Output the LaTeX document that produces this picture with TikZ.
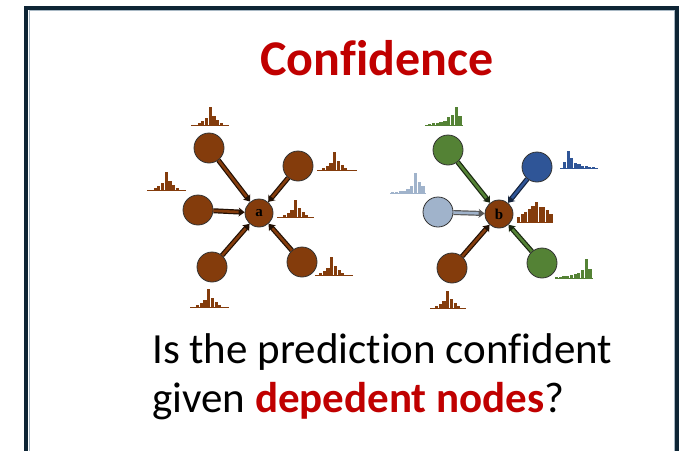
\documentclass[tikz,border=0pt]{standalone}
\usepackage{fontspec}
\setmainfont{Carlito}[Ligatures=NoCommon]
\newfontfamily\labelfont{Liberation Serif}
\usetikzlibrary{arrows.meta}

\definecolor{framedark}{HTML}{0E2535}
\definecolor{framelight}{HTML}{A8B8C4}
\definecolor{titlered}{HTML}{C00000}
\definecolor{nbrown}{HTML}{843C0C}
\definecolor{ngreen}{HTML}{548235}
\definecolor{nblue}{HTML}{2F5597}
\definecolor{nlight}{HTML}{A0B3CB}

\tikzset{
  gnode/.style={circle, minimum size=30pt, inner sep=0pt, draw=black!80, line width=0.8pt, fill=#1},
  cnode/.style={circle, minimum size=28pt, inner sep=0pt, draw=black!80, line width=0.8pt, fill=nbrown,
                font=\labelfont\bfseries\fontsize{15}{15}\selectfont},
  edgeout/.style={draw=#1, line width=5pt, -{Stealth[length=6pt,width=9pt]}},
  edgein/.style={draw=#1, line width=2.6pt, shorten >=6pt},
}

% histogram: colour, baseline from x to x, baseline y, first bar x, bar width, bar heights
\newcommand\histo[7]{%
  \draw[#1, line width=1pt] (#2,#4) -- (#3,#4);
  \foreach \hh [count=\ii from 0] in {#7}
    \fill[#1] (#5+\ii*#6, #4) rectangle ++(#6-0.45, -\hh);
}

% an arrow from a neighbour into the centre node
\newcommand\link[4]{% outline colour, fill colour, from, to
  \draw[edgeout=#1] (#3) -- (#4);
  \draw[edgein=#2] (#3) -- (#4);
}

\begin{document}
\begin{tikzpicture}[x=1pt, y=-1pt]
\useasboundingbox (0,0) rectangle (682,450);
\fill[white] (0,0) rectangle (682,450);

% open frame
\draw[framedark, line width=4pt] (26,452) -- (26,7.5) -- (677,7.5) -- (677,452);
\draw[framelight, line width=0.8pt] (29.5,452) -- (29.5,10) -- (674,10) -- (674,452);

% title
\node[anchor=base, text=titlered, font=\fontsize{50}{50}\selectfont\bfseries] (title) at (377,75) {Confidence};

% ---- left graph ----
\node[cnode] (a) at (259,213) {a};
\node[gnode=nbrown] (a1) at (209,148) {};
\node[gnode=nbrown] (a2) at (298,166) {};
\node[gnode=nbrown] (a3) at (198,210) {};
\node[gnode=nbrown] (a4) at (212,267) {};
\node[gnode=nbrown] (a5) at (302,262) {};
\foreach \n in {a1,a2,a3,a4,a5} {\link{black!75!nbrown}{nbrown}{\n}{a}}

\histo{nbrown}{191}{229}{125}{197.5}{3.7}{2,4,7,18,9,5,2}
\histo{nbrown}{147}{186}{190}{153.5}{3.7}{2,4,7,18,9,5,2}
\histo{nbrown}{317}{357}{170}{322}{3.7}{2,4,7,18,9,5,2}
\histo{nbrown}{277}{314}{217}{283}{3.7}{2,4,7,17,9,5,2}
\histo{nbrown}{315}{353}{275}{319}{3.7}{2,4,7,18,9,5,2}
\histo{nbrown}{190}{229}{307}{196}{3.7}{2,4,7,18,9,5,2}

% ---- right graph ----
\node[cnode] (b) at (499,214) {b};
\node[gnode=ngreen] (b1) at (448,150) {};
\node[gnode=nblue] (b2) at (537,167) {};
\node[gnode=nlight] (b3) at (438,212) {};
\node[gnode=nbrown] (b4) at (452,268) {};
\node[gnode=ngreen] (b5) at (542,263) {};
\link{black!70!ngreen}{ngreen}{b1}{b}
\link{black!60!nblue}{nblue}{b2}{b}
\link{black!65}{nlight}{b3}{b}
\link{black!75!nbrown}{nbrown}{b4}{b}
\link{black!70!ngreen}{ngreen}{b5}{b}

\histo{ngreen}{425}{463}{125}{428}{3.8}{1,2,2,3,4,8,10,18,9}
\histo{nblue}{560}{598}{168}{563}{3.6}{6,17,10,5,4,2,2,1,1}
\histo{nlight}{390}{426}{193}{391}{3.8}{1,1,2,2,4,7,20,11,7}
\histo{nbrown}{517}{553}{222}{517}{3.6}{5,8,10,13,16,20,15,15,12,8}
\histo{ngreen}{555}{593}{278}{555}{3.7}{1,1,2,2,3,4,5,8,19,9}
\histo{nbrown}{430}{466}{308}{435}{3.7}{2,4,7,17,9,5,2}

% question
\node[anchor=base west, inner sep=0pt, font=\fontsize{43}{43}\selectfont] (q1) at (152,363)
  {Is the prediction confident};
\node[anchor=base west, inner sep=0pt, font=\fontsize{43}{43}\selectfont] (q2) at (152,412)
  {given \textcolor{titlered}{\bfseries depedent nodes}?};
\end{tikzpicture}
\end{document}
